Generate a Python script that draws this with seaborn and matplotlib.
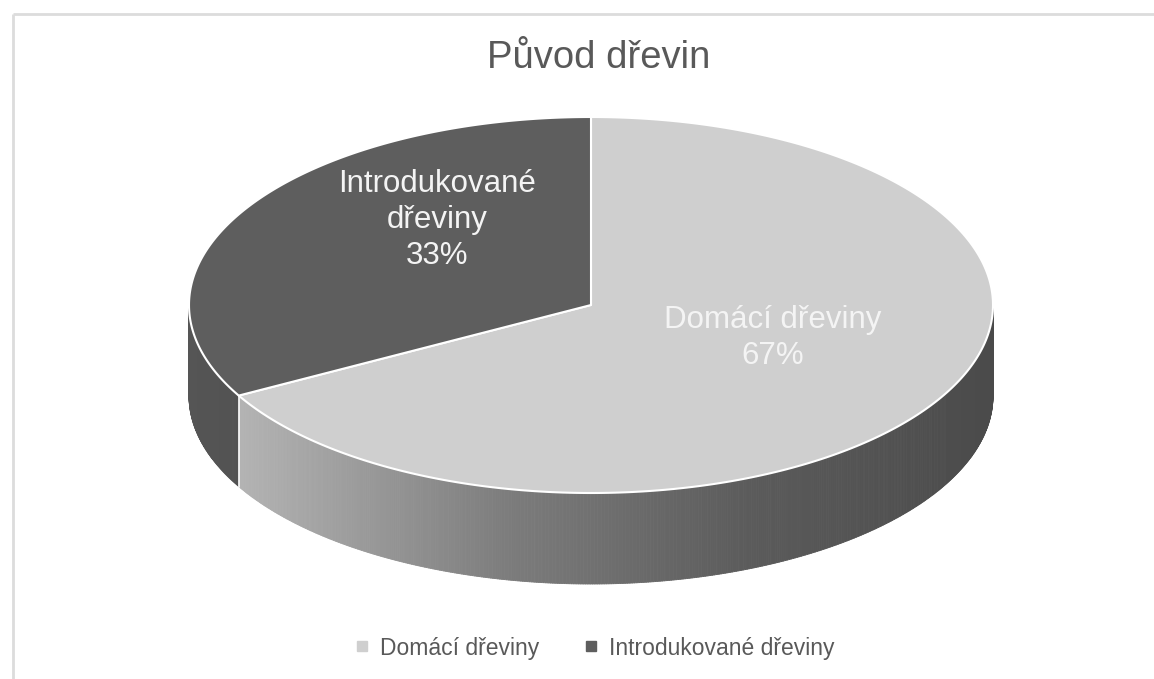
import numpy as np
import matplotlib
matplotlib.use("Agg")
import matplotlib.pyplot as plt
import seaborn as sns
from matplotlib.patches import Polygon
from matplotlib.collections import PolyCollection
from matplotlib.lines import Line2D

# ---- data ----
categories = ["Domácí dřeviny", "Introdukované dřeviny"]
values = [67, 33]
slice_labels = ["Domácí dřeviny", "Introdukované\ndřeviny"]
base_grays = [0.81, 0.37]
title = "Původ dřevin"

sns.set_theme(style="white")
plt.rcParams['font.family'] = ['Liberation Sans', 'DejaVu Sans']

W, H = 1154, 679
fig = plt.figure(figsize=(W / 100, H / 100), dpi=100)
ax = fig.add_axes([0, 0, 1, 1])
ax.set_xlim(0, W)
ax.set_ylim(H, 0)
ax.axis('off')

# chart frame (cropped: only top & left visible)
ax.plot([13, W], [14, 14], color='#dcdcdc', lw=2, solid_capstyle='butt')
ax.plot([13, 13], [14, H], color='#dcdcdc', lw=2, solid_capstyle='butt')

cx, cy, rx, ry, depth = 591, 305, 402, 188, 91


def pts(t_deg, dz=0.0):
    t = np.radians(t_deg)
    return cx + rx * np.cos(t), cy - ry * np.sin(t) + dz


# lighting factor vs horizontal position
u_stops = [0.0, 0.05, 0.15, 0.4, 0.7, 1.0]
f_stops = [0.90, 0.88, 0.80, 0.60, 0.44, 0.36]

vals = np.array(values, dtype=float)
frac = vals / vals.sum()
cum = np.concatenate([[0], np.cumsum(frac)])
starts = 90 - 360 * cum[:-1]
ends = 90 - 360 * cum[1:]

# side walls (front half)
for i in range(len(vals)):
    lo, hi = ends[i], starts[i]
    for k in range(-2, 2):
        a, b = -180 + 360 * k, 0 + 360 * k
        s, e = max(lo, a), min(hi, b)
        if e <= s:
            continue
        n = max(int((e - s) * 3), 2)
        ts = np.linspace(s, e, n + 1)
        polys, cols = [], []
        for j in range(n):
            x0, y0 = pts(ts[j])
            x1, y1 = pts(ts[j + 1])
            polys.append([(x0, y0), (x1, y1), (x1, y1 + depth), (x0, y0 + depth)])
            u = ((x0 + x1) / 2 - (cx - rx)) / (2 * rx)
            g = base_grays[i] * np.interp(u, u_stops, f_stops)
            cols.append((g, g, g))
        ax.add_collection(PolyCollection(polys, facecolors=cols, edgecolors=cols, linewidths=0.6))

# white vertical edges at slice boundaries on the front
for t in starts:
    tm = (t + 360) % 360
    if 180 < tm < 360:
        x0, y0 = pts(t)
        ax.plot([x0, x0], [y0, y0 + depth], color='white', lw=1.2)

# top faces
for i in range(len(vals)):
    ts = np.linspace(ends[i], starts[i], 300)
    xs, ys = pts(ts)
    poly = [(cx, cy)] + list(zip(xs, ys))
    g = base_grays[i]
    ax.add_patch(Polygon(poly, closed=True, facecolor=(g, g, g), edgecolor='white', lw=1.5, joinstyle='round'))

# data labels
label_pos = [(773, 338), (437, 220)]
for i in range(len(vals)):
    ax.text(label_pos[i][0], label_pos[i][1], f"{slice_labels[i]}\n{values[i]:.0f}%",
            ha='center', va='center', fontsize=22.5, color='#f4f4f4', linespacing=1.25)

# title
ax.text(599, 58, title, ha='center', va='center', fontsize=27.5, color='#595959')

# legend
handles = [Line2D([], [], marker='s', linestyle='none', markersize=7,
                  markerfacecolor=(g, g, g), markeredgecolor=(g, g, g)) for g in base_grays]
leg = ax.legend(handles, categories, loc='center', bbox_to_anchor=(594 / W, 1 - 648 / H),
                ncol=2, frameon=False, fontsize=16.5, handlelength=0.7, handletextpad=0.45,
                columnspacing=1.9)
for t in leg.get_texts():
    t.set_color('#595959')

fig.savefig("out.png", dpi=100)
